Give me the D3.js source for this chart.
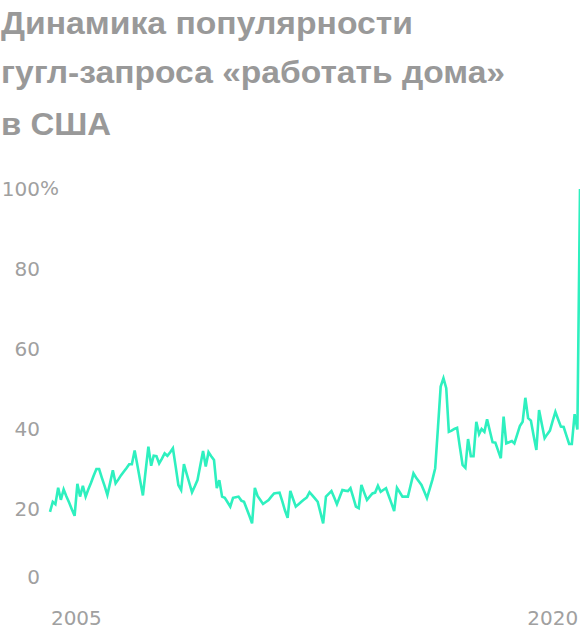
<!DOCTYPE html>
<html>
<head>
<meta charset="utf-8">
<script src="https://cdn.jsdelivr.net/npm/d3@7"></script>
<style>
  html, body { margin: 0; padding: 0; background: #fff; }
  svg { display: block; }
</style>
</head>
<body>
<svg id="chart" width="580" height="638"></svg>
<script>
// ---- data ----
const titleLines = ["Динамика популярности", "гугл-запроса «работать дома»", "в США"];
const startYear = 2004;       // first month: January 2004
const startMonth = 0;
// monthly popularity (Google Trends, %) Jan 2004 … Mar 2020
const values = [
  19.3, 21.8, 21.2, 25.3, 22.3, 24.9, 23.2, 21.6, 19.9, 18.3, 26.3, 23.1,
  25.8, 23.1, 24.8, 26.5, 28.3, 30.0, 30.0, 27.8, 25.7, 23.5, 26.6, 29.7,
  26.4, 27.4, 28.4, 29.3, 30.2, 31.2, 31.2, 34.6, 30.9, 27.1, 23.4, 29.5,
  35.6, 30.8, 33.3, 33.2, 31.4, 32.6, 33.9, 33.3, 34.2, 35.2, 30.6, 26.0,
  24.75, 31.2, 28.9, 26.5, 24.2, 25.7, 27.25, 30.9, 34.5, 30.6, 34.2, 33.2,
  32.25, 25.2, 27.2, 23.1, 22.8, 21.7, 20.6, 22.8, 22.95, 23.1, 22.1, 21.8,
  20.0, 18.2, 16.4, 25.3, 23.25, 22.25, 21.25, 21.75, 22.25, 23.1, 23.9, 24.0,
  24.1, 21.9, 19.75, 17.8, 24.5, 22.5, 20.6, 21.2, 21.8, 22.35, 22.9, 24.2,
  23.4, 22.6, 21.8, 19.1, 16.4, 23.1, 23.8, 24.5, 22.85, 21.2, 23.0, 24.75,
  24.6, 24.5, 25.2, 22.9, 20.6, 20.2, 26.0, 24.1, 22.25, 23.1, 23.9, 24.1,
  25.8, 24.3, 24.75, 25.2, 23.3, 21.4, 19.5, 25.3, 24.2, 23.1, 23.1, 23.1,
  26.0, 28.9, 27.9, 26.95, 26.0, 24.35, 22.7, 25.05, 27.4, 30.2, 40.4, 50.6,
  52.7, 50.2, 39.3, 39.6, 40.0, 40.3, 35.6, 31.0, 30.3, 37.5, 33.2, 33.2,
  41.8, 38.7, 40.0, 39.3, 42.4, 39.5, 36.7, 36.6, 34.6, 32.7, 43.1, 36.4,
  36.7, 37.0, 36.4, 38.6, 40.75, 41.8, 47.8, 42.7, 42.1, 38.4, 34.75, 44.75,
  41.2, 37.7, 38.65, 39.6, 41.95, 44.3, 42.45, 40.6, 40.5, 38.4, 36.25, 36.25,
  43.7, 39.9, 100
];
const yTicks = [0, 20, 40, 60, 80, 100];
const xTickYears = [2005, 2020];

// ---- layout ----
const svg = d3.select("#chart");
const plotLeft = 50, plotRight = 580;
const yTop = 189, yBottom = 589;

const data = values.map((v, i) => ({ date: new Date(startYear, startMonth + i, 1), value: v }));

const x = d3.scaleTime()
  .domain(d3.extent(data, d => d.date))
  .range([plotLeft, plotRight]);
const y = d3.scaleLinear().domain([0, 100]).range([yBottom, yTop]);

// ---- title ----
const titleBase = [34, 83, 135];
const titleWidths = [412, 504, 110];
const title = svg.append("g");
titleLines.forEach((t, i) => {
  title.append("text")
    .attr("x", 1)
    .attr("y", titleBase[i])
    .attr("font-family", "'Liberation Sans', Arial, sans-serif")
    .attr("font-weight", 700)
    .attr("font-size", 32)
    .attr("fill", "#999999")
    .attr("textLength", titleWidths[i])
    .attr("lengthAdjust", "spacingAndGlyphs")
    .text(t);
});

// ---- y axis ----
const yAxis = svg.append("g")
  .attr("transform", "translate(40,0)")
  .call(d3.axisLeft(y).tickValues(yTicks).tickSize(0).tickPadding(0).tickFormat(d3.format("d")));
yAxis.select(".domain").remove();
yAxis.selectAll("text")
  .attr("font-family", "'DejaVu Sans', sans-serif")
  .attr("font-size", 20)
  .attr("fill", "#a0a0a0")
  .attr("dy", d => d === 0 ? "-0.28em" : "0.32em");
// percent sign after the top label
yAxis.append("text")
  .attr("x", 0)
  .attr("y", y(100))
  .attr("dy", "0.32em")
  .attr("text-anchor", "start")
  .attr("font-family", "'DejaVu Sans', sans-serif")
  .attr("font-size", 20)
  .attr("fill", "#a0a0a0")
  .text("%");

// ---- x axis ----
const xAxis = svg.append("g")
  .attr("transform", "translate(0,625)")
  .call(d3.axisBottom(x)
    .tickValues(xTickYears.map(yy => new Date(yy, 0, 1)))
    .tickSize(0)
    .tickFormat(d3.timeFormat("%Y")));
xAxis.select(".domain").remove();
xAxis.selectAll("text")
  .attr("font-family", "'DejaVu Sans', sans-serif")
  .attr("font-size", 20)
  .attr("fill", "#a0a0a0")
  .attr("y", 0)
  .attr("dy", 0)
  .attr("text-anchor", (d, i) => i === 0 ? "middle" : "end")
  .attr("x", (d, i) => i === 0 ? -7 : 3);

// ---- line ----
svg.append("path")
  .datum(data)
  .attr("fill", "none")
  .attr("stroke", "#2ef0bf")
  .attr("stroke-width", 2.6)
  .attr("stroke-linejoin", "miter")
  .attr("d", d3.line().x(d => x(d.date)).y(d => y(d.value)));
</script>
</body>
</html>
